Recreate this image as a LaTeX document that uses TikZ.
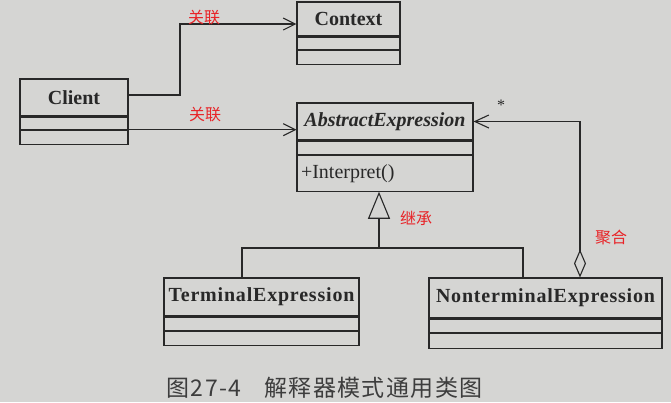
\documentclass[tikz,border=0pt]{standalone}
\usepackage{fontspec}
\setmainfont{Liberation Serif}
\newfontfamily\cjk{Noto Sans CJK SC}
\newfontfamily\cjkcap[LetterSpace=6]{Noto Sans CJK SC}
\newfontfamily\widebold[LetterSpace=4]{Liberation Serif}
\usetikzlibrary{positioning,arrows.meta}
\definecolor{paper}{RGB}{213,213,211}
\definecolor{ink}{RGB}{40,40,40}
\definecolor{redink}{RGB}{232,36,40}
\begin{document}
\begin{tikzpicture}[x=1pt, y=-1pt,
    line width=1.1pt, draw=ink,
    cname/.style={draw=ink, inner sep=0pt, font=\fontsize{20}{22}\selectfont\bfseries, text=ink},
    cwide/.style={cname, font=\widebold\fontsize{20}{22}\selectfont\bfseries},
    ccell/.style={draw=ink, inner sep=0pt},
    note/.style={font=\cjk\fontsize{16}{18}\selectfont, text=redink},
    assoc/.style={draw=ink, -{Straight Barb[length=12pt, width=12pt]}},
    inherit/.style={draw=ink, -{Triangle[open, length=27pt, width=22pt]}},
    aggr/.style={draw=ink, {Diamond[open, length=28pt, width=12pt]}-{Straight Barb[length=14pt, width=13pt]}}]
            \fill [paper] (0,0) rectangle (671,402);
            \useasboundingbox (0,0) rectangle (671,402);
            % classes
            \node [cname, minimum width=108pt, minimum height=37pt] (client) at (74,97.5) {Client};
            \node [ccell, minimum width=108pt, minimum height=12pt, below=0pt of client] (clientattr) {};
            \node [ccell, minimum width=108pt, minimum height=14pt, below=0pt of clientattr] (clientops) {};
            \node [cname, minimum width=103pt, minimum height=34pt] (context) at (348.5,19) {Context};
            \node [ccell, minimum width=103pt, minimum height=12pt, below=0pt of context] (contextattr) {};
            \node [ccell, minimum width=103pt, minimum height=14pt, below=0pt of contextattr] (contextops) {};
            \node [cname, minimum width=176pt, minimum height=37pt] (abstract) at (385,121.5) {\itshape AbstractExpression};
            \node [ccell, minimum width=176pt, minimum height=13pt, below=0pt of abstract] (absattr) {};
            \node [ccell, minimum width=176pt, minimum height=36pt, below=0pt of absattr, font=\fontsize{20}{22}\selectfont, text=ink, align=left, text width=168pt] (absops) {+Interpret()};
            \node [cwide, minimum width=195pt, minimum height=38pt] (terminal) at (261.5,297) {TerminalExpression};
            \node [ccell, minimum width=195pt, minimum height=13pt, below=0pt of terminal] (termattr) {};
            \node [ccell, minimum width=195pt, minimum height=14pt, below=0pt of termattr] (termops) {};
            \node [cwide, minimum width=233pt, minimum height=40pt] (nonterminal) at (545.5,298) {NonterminalExpression};
            \node [ccell, minimum width=233pt, minimum height=13pt, below=0pt of nonterminal] (ntattr) {};
            \node [ccell, minimum width=233pt, minimum height=15pt, below=0pt of ntattr] (ntops) {};
            % relations
            \draw [assoc] ([yshift=2.5pt]client.east) -- (180,95) -- (180,24) -- ([yshift=-5pt]context.west);
            \draw [assoc] (clientattr.south east) -- (clientattr.south east -| abstract.west);
            \coordinate (fork) at (379,248);
            \draw [inherit] (fork) -- (fork |- absops.south);
            \draw ([xshift=-19.5pt]terminal.north) |- (fork) -| ([xshift=-22.5pt]nonterminal.north);
            \draw [aggr] ([xshift=34.5pt]nonterminal.north) |- (abstract.east);
            % labels
            \node [note] (assoc1) at (204,18) {关联};
            \node [note] (assoc2) at (205,115) {关联};
            \node [note] (inh) at (416,218) {继承};
            \node [note] (agg) at (611,237) {聚合};
            \node [font=\fontsize{16}{18}\selectfont, text=ink] (many) at (501,105) {*};
            \node [anchor=west, inner sep=0pt, font=\cjkcap\fontsize{23}{25}\selectfont, text=ink!90] (caption) at (166,388) {图27-4\quad 解释器模式通用类图};
        \end{tikzpicture}
\end{document}
